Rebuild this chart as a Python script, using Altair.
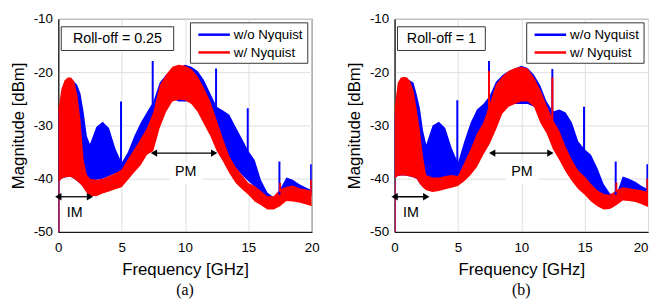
import altair as alt
import pandas as pd

FREQ = [0, 0.25, 0.5, 0.75, 1, 1.25, 1.5, 1.75, 2, 2.25, 2.5, 3, 3.5, 4, 4.5, 5, 5.5, 6, 6.5, 7,
        7.5, 8, 8.5, 9, 9.5, 10, 10.5, 11, 11.5, 12, 12.5, 13, 13.5, 14, 14.5, 15, 15.5, 16, 16.5, 17,
        17.5, 18, 18.5, 19, 19.5, 20]

# ---- panel (a): roll-off 0.25 ----
A_BLUE_HI = [-28, -24, -22, -21.2, -21.2, -21.8, -22.4, -24, -27.5, -32, -33.5, -30.3, -29.3, -30.5, -34.3, -37,
             -35, -32, -29.5, -27.5, -25.5, -22, -20.5, -19.8, -19.2, -18.6, -19, -19.8, -21.5, -24, -26.5,
             -27.2, -28, -30.3, -32.5, -34.8, -36.5, -40.3, -42.6, -43.5, -42, -39.8, -40.2, -41, -41.6, -42.2]
A_BLUE_LO = [-40.8, -40, -39.8, -39.7, -39.7, -40, -40.5, -41, -41.5, -41, -40.5, -40.2, -40, -39.5, -39, -39,
             -38.5, -37.5, -36, -34, -31.5, -28.5, -26, -25, -25.5, -25.5, -25.5, -26, -27.5, -29.5, -32,
             -34.5, -36.5, -38, -39.3, -40.5, -41.5, -42.5, -43.5, -43.8, -43.2, -42.3, -42.3, -42.6, -43, -43.2]
A_RED_HI = [-27, -23.1, -21.5, -21, -21, -21.7, -24.2, -29, -36.5, -39.2, -40, -40.2, -40, -39.5, -39, -38.3,
            -36.3, -34.5, -32.5, -30.5, -27.5, -22.5, -20.5, -19, -18.6, -18.8, -19.4, -20.8, -23, -25.5, -29,
            -32.5, -35.8, -37.8, -39.3, -40.8, -41.4, -42.3, -43.3, -43.3, -42, -41.5, -41.3, -41.8, -42, -42.3]
A_RED_LO = [-40.8, -40, -39.8, -39.7, -39.7, -40, -40.5, -41, -41.8, -42.7, -43.2, -43.3, -42.8, -42.4, -42,
            -41.6, -40.2, -38.8, -37.5, -35.5, -34.8, -30.5, -27.5, -25.5, -25.2, -25.3, -26, -27.5, -29.8, -32,
            -34.8, -36.8, -39, -40.8, -42, -43, -44.3, -45, -45.8, -45.8, -45.2, -44.2, -44.3, -44.5, -44.8, -45.2]
A_BLUE_SPIKE_F = [4.95, 7.45, 12.45, 14.95, 17.45, 19.95]
A_BLUE_SPIKE_TOP = [-25.5, -17.9, -19.3, -26.8, -36.8, -37.3]
A_BLUE_SPIKE_BASE = [-37, -26, -27, -35, -43, -42.5]
A_RED_SPIKE_F = [17.5, 19.95]
A_RED_SPIKE_TOP = [-40.8, -40.2]
A_RED_SPIKE_BASE = [-42.5, -43]

# ---- panel (b): roll-off 1 ----
B_BLUE_HI = [-28, -23, -21.5, -21.2, -21.3, -21.6, -22, -24.2, -26.8, -31, -33.6, -30, -29.3, -30.5, -34.2, -37,
             -33, -29.5, -27, -26, -24.5, -21.8, -20.6, -19.8, -19.3, -18.8, -19.2, -20.5, -22.5, -25.5, -27.4,
             -27, -27.6, -29.5, -33, -34.5, -35.5, -38, -41, -42.8, -43, -39.6, -40, -40.6, -41.4, -42]
B_BLUE_LO = [-40, -39.5, -39.4, -39.4, -39.5, -39.6, -39.8, -40, -41, -41, -40.5, -40.3, -40.2, -40, -39.5, -39.5,
             -38, -36.5, -35, -33, -31, -28, -26, -25.5, -26, -26, -26, -26.5, -28, -30, -32.5,
             -34.5, -36.5, -38, -39.5, -40.5, -41.5, -42.8, -43.5, -43.8, -43.5, -42.5, -42.5, -42.8, -43, -43.3]
B_RED_HI = [-26.8, -22, -21, -20.9, -21, -21.8, -23.5, -27, -31, -36, -39.3, -39.8, -39.8, -39.5, -39.3, -39.5,
            -37, -34.5, -31.5, -29.5, -26, -22.3, -20.8, -19.8, -19.2, -19, -19.3, -21, -23.3, -26.2, -29,
            -31, -34, -36.5, -38.5, -39.6, -41, -42.2, -42.9, -43, -42.2, -41.6, -41.8, -42, -42.2, -42.5]
B_RED_LO = [-40, -39.5, -39.4, -39.4, -39.5, -39.6, -39.8, -40, -41, -41.7, -42.2, -42.5, -42.3, -42, -41.7,
            -41.4, -40.5, -39.3, -37.8, -35.5, -33.5, -30.8, -27.8, -26.5, -26, -25.5, -25.5, -26.5, -29.5, -31.5,
            -34.5, -36.5, -38.7, -40.5, -42, -43, -44.3, -45.2, -45.8, -45.7, -45, -44.1, -44.2, -44.4, -44.8, -45.3]
B_BLUE_SPIKE_F = [4.95, 7.45, 12.45, 14.95, 17.45, 19.95]
B_BLUE_SPIKE_TOP = [-25.3, -17.9, -19.4, -26.5, -36.8, -37.3]
B_BLUE_SPIKE_BASE = [-37, -26, -28, -35, -43, -42.5]
B_RED_SPIKE_F = [7.45, 12.45, 17.5, 19.95]
B_RED_SPIKE_TOP = [-19.8, -21, -40.7, -40]
B_RED_SPIKE_BASE = [-28, -30, -42.5, -43]

X_TICKS = [0, 2.5, 5, 7.5, 10, 12.5, 15, 17.5, 20]
Y_TICKS = [-50, -40, -30, -20, -10]

BLUE = "#0000ff"
RED = "#ff0000"
FONT = "Liberation Sans"


def panel(bhi, blo, rhi, rlo, bsf, bst, bsb, rsf, rst, rsb, roll_text, box_x2, caption, pm_x1, edge):
    band = pd.DataFrame({"f": FREQ, "bhi": bhi, "blo": blo, "rhi": rhi, "rlo": rlo})
    bsp = pd.DataFrame({"f": bsf, "top": bst, "base": bsb})
    rsp = pd.DataFrame({"f": rsf, "top": rst, "base": rsb})

    xs = alt.Scale(domain=[0, 20], nice=False, zero=False)
    ys = alt.Scale(domain=[-50, -10], nice=False, zero=False)
    xkw = dict(values=X_TICKS, labelExpr="datum.value + ''", title="Frequency [GHz]",
               labelPadding=9, titlePadding=8, labelFlush=False, labelOverlap=False)
    if edge:
        xkw["labelAlign"] = {"condition": {"test": "datum.value == 20", "value": "right"}, "value": "center"}
    xax = alt.Axis(**xkw)
    yax = alt.Axis(values=Y_TICKS, labelExpr="datum.value + ''", title="Magnitude [dBm]",
                   labelPadding=6, titlePadding=6, labelFlush=False, labelOverlap=False)

    blue = alt.Chart(band).mark_area(color=BLUE, opacity=1, clip=True).encode(
        x=alt.X("f:Q", scale=xs, axis=xax),
        y=alt.Y("bhi:Q", scale=ys, axis=yax),
        y2="blo:Q")
    red = alt.Chart(band).mark_area(color=RED, opacity=1, clip=True).encode(
        x="f:Q", y="rhi:Q", y2="rlo:Q")
    bspk = alt.Chart(bsp).mark_rule(color=BLUE, strokeWidth=2, clip=True).encode(
        x="f:Q", y="top:Q", y2="base:Q")
    rspk = alt.Chart(rsp).mark_rule(color=RED, strokeWidth=2, clip=True).encode(
        x="f:Q", y="top:Q", y2="base:Q")
    dc = alt.Chart(pd.DataFrame({"f": [0.04], "top": [-40.5], "base": [-50]})).mark_rule(
        color="#b0206b", strokeWidth=2, clip=True).encode(x="f:Q", y="top:Q", y2="base:Q")

    # PM label background
    pmbox = alt.Chart(pd.DataFrame({"a": [8.8], "b": [11.4], "t": [-36.8], "u": [-41]})).mark_rect(
        color="white").encode(x="a:Q", x2="b:Q", y="t:Q", y2="u:Q")

    arrows = pd.DataFrame({"a": [0.0, pm_x1], "b": [2.5, 12.3], "y": [-43.4, -35.2]})
    arr_line = alt.Chart(arrows).mark_rule(color="black", strokeWidth=1.3).encode(
        x="a:Q", x2="b:Q", y="y:Q")
    arr_l = alt.Chart(arrows).mark_point(shape="triangle-left", filled=True, color="black",
                                         size=55, opacity=1).encode(x="a:Q", y="y:Q")
    arr_r = alt.Chart(arrows).mark_point(shape="triangle-right", filled=True, color="black",
                                         size=55, opacity=1).encode(x="b:Q", y="y:Q")
    labels = pd.DataFrame({"f": [1.3, 10.05], "y": [-46.5, -38.8], "t": ["IM", "PM"]})
    lab = alt.Chart(labels).mark_text(font=FONT, fontSize=14.5, color="black").encode(
        x="f:Q", y="y:Q", text="t:N")

    # roll-off box (pixel positions inside plot)
    rbox = alt.Chart(pd.DataFrame({"k": [0]})).mark_rect(
        fill="white", stroke="#333333", strokeWidth=1).encode(
        x=alt.value(3), x2=alt.value(box_x2), y=alt.value(8), y2=alt.value(32))
    rtext = alt.Chart(pd.DataFrame({"t": [roll_text]})).mark_text(
        font=FONT, fontSize=14.5, color="black", align="center", baseline="middle").encode(
        x=alt.value((3 + box_x2) / 2), y=alt.value(20.5), text="t:N")

    # legend box
    lbox = alt.Chart(pd.DataFrame({"k": [0]})).mark_rect(
        fill="white", stroke="#333333", strokeWidth=1).encode(
        x=alt.value(134), x2=alt.value(253), y=alt.value(4), y2=alt.value(45))
    lline_b = alt.Chart(pd.DataFrame({"k": [0]})).mark_rule(color=BLUE, strokeWidth=2.5).encode(
        x=alt.value(142), x2=alt.value(174), y=alt.value(16))
    lline_r = alt.Chart(pd.DataFrame({"k": [0]})).mark_rule(color=RED, strokeWidth=2.5).encode(
        x=alt.value(142), x2=alt.value(174), y=alt.value(34))
    ltext = alt.Chart(pd.DataFrame({"t": ["w/o Nyquist", "w/ Nyquist"], "yy": [16.5, 34.5]})).mark_text(
        font=FONT, fontSize=13.5, color="black", align="left", baseline="middle").encode(
        x=alt.value(178), y=alt.Y("yy:Q", scale=None), text="t:N")

    return alt.layer(blue, red, bspk, rspk, dc, pmbox, arr_line, arr_l, arr_r, lab,
                     rbox, rtext, lbox, lline_b, lline_r, ltext).properties(
        width=257, height=216,
        title=alt.TitleParams(text=caption, orient="bottom", anchor="middle", frame="group",
                              font="Liberation Serif", fontSize=16, fontWeight="normal",
                              color="black", offset=4))


pa = panel(A_BLUE_HI, A_BLUE_LO, A_RED_HI, A_RED_LO, A_BLUE_SPIKE_F, A_BLUE_SPIKE_TOP, A_BLUE_SPIKE_BASE,
           A_RED_SPIKE_F, A_RED_SPIKE_TOP, A_RED_SPIKE_BASE, "Roll-off = 0.25", 117, "(a)", 7.55, False)
pb = panel(B_BLUE_HI, B_BLUE_LO, B_RED_HI, B_RED_LO, B_BLUE_SPIKE_F, B_BLUE_SPIKE_TOP, B_BLUE_SPIKE_BASE,
           B_RED_SPIKE_F, B_RED_SPIKE_TOP, B_RED_SPIKE_BASE, "Roll-off = 1", 92, "(b)", 7.7, True)

chart = alt.hconcat(pa, pb, spacing=24).properties(
    padding={"left": 0, "top": 1, "right": 0, "bottom": 0}
).configure_view(stroke="black", strokeWidth=1).configure_axis(
    labelFont=FONT, titleFont=FONT, labelFontSize=13.5, titleFontSize=17, titleFontWeight="normal",
    labelColor="black", titleColor="black", domainColor="black", domainWidth=1,
    gridColor="#dedede", gridWidth=1, ticks=False
)

chart.save("out.html", embed_options={"renderer": "svg", "actions": False})
